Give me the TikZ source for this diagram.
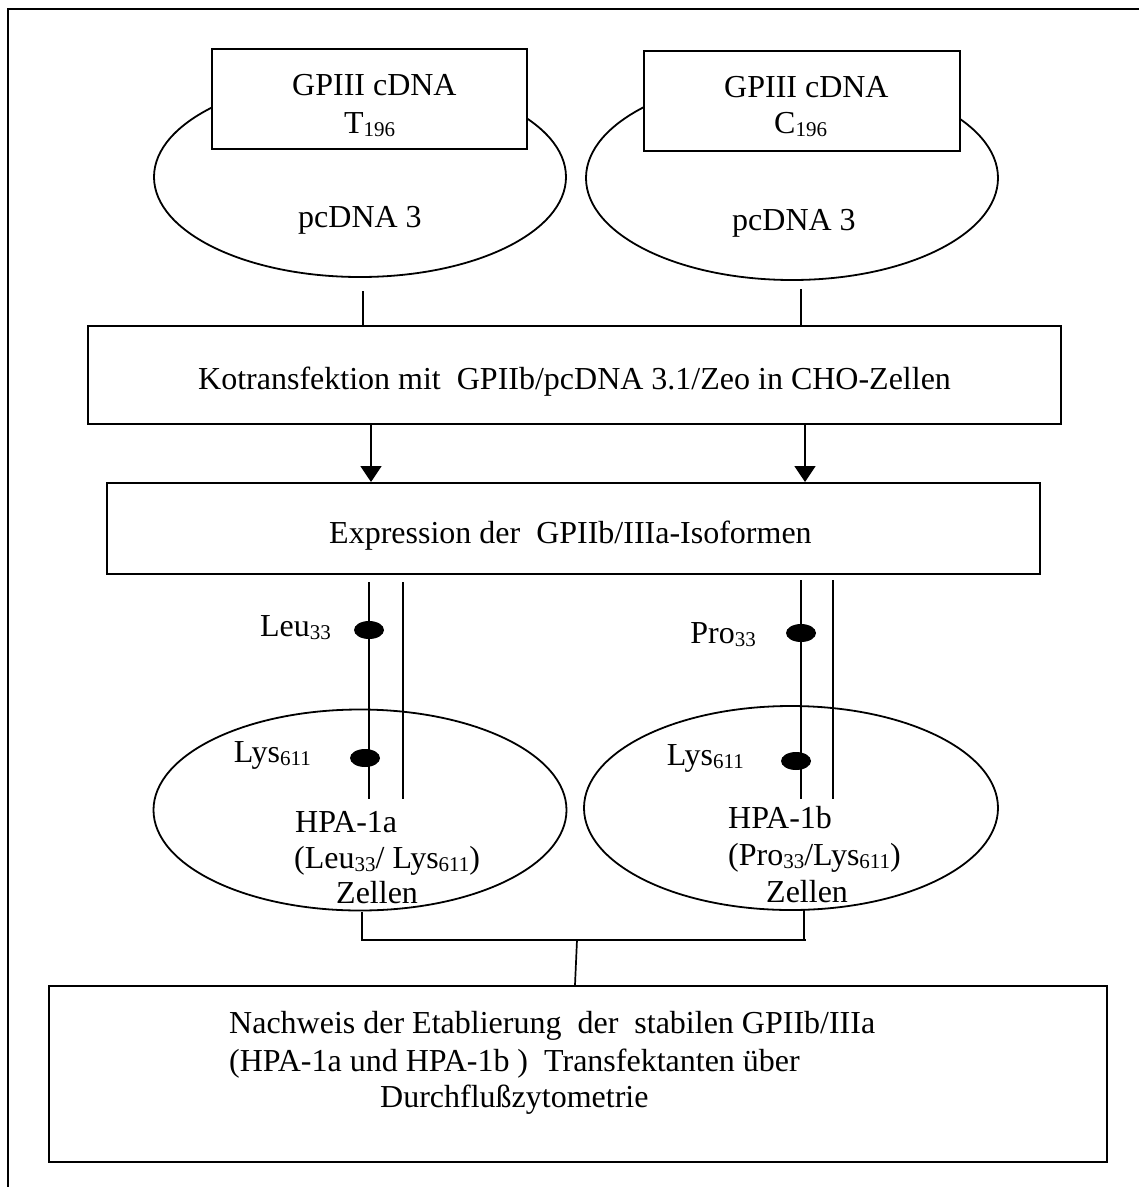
\documentclass[tikz,border=0pt]{standalone}
\usepackage{fontspec}
\setmainfont{Liberation Serif}
\usetikzlibrary{shapes.geometric,arrows.meta}
\newcommand\lowsub[1]{\raisebox{-3.5pt}{\fontsize{21}{21}\selectfont #1}}
\begin{document}
\begin{tikzpicture}[x=1pt,y=-1pt,
  box/.style={draw,line width=2pt,fill=white,rectangle,inner sep=0pt},
  ell/.style={draw,line width=1.8pt,ellipse,inner sep=0pt},
  dot/.style={fill=black,ellipse,inner sep=0pt,minimum width=30pt,minimum height=18pt},
  txt/.style={inner sep=0pt,anchor=base west,font=\fontsize{32}{37}\selectfont},
  txtr/.style={inner sep=0pt,anchor=base east,font=\fontsize{32}{37}\selectfont},
  conn/.style={line width=1.7pt},
  arr/.style={line width=1.7pt,-{Triangle[length=16pt,width=21pt]}},
  frame/.style={line width=2.2pt}
]
\useasboundingbox (0,0) rectangle (1139,1187);
\fill[white] (0,0) rectangle (1139,1187);

% outer frame
\coordinate (fr1) at (1139,9);
\coordinate (fr2) at (8,9);
\coordinate (fr3) at (8,1187);
\draw[frame] (fr1) -- (fr2) -- (fr3);

% plasmids
\node[ell,minimum width=412pt,minimum height=200pt] (e1) at (360,177) {};
\node[ell,minimum width=412pt,minimum height=204pt] (e2) at (792,178) {};
\node[box,minimum width=315pt,minimum height=100pt] (b1) at (369.5,99) {};
\node[box,minimum width=316pt,minimum height=100pt] (b2) at (802,101) {};
\node[txt] (t1a) at (292,95) {GPIII cDNA};
\node[txt] (t1b) at (344,133) {T\lowsub{196}};
\node[txt] (t1c) at (298,227) {pcDNA 3};
\node[txt] (t2a) at (724,97) {GPIII cDNA};
\node[txt] (t2b) at (774,133) {C\lowsub{196}};
\node[txt] (t2c) at (732,230) {pcDNA 3};

% Kotransfektion
\node[box,minimum width=973pt,minimum height=98pt] (kot) at (574.5,375) {};
\node[txt] (tkot) at (198,389) {Kotransfektion mit~ GPIIb/pcDNA 3.1/Zeo in CHO-Zellen};
\coordinate (c1) at (363,291);
\coordinate (c2) at (801,289);
\draw[conn] (c1) -- (c1 |- kot.north);
\draw[conn] (c2) -- (c2 |- kot.north);

% Expression
\node[box,minimum width=933pt,minimum height=91pt] (expr) at (573.5,528.5) {};
\node[txt] (texpr) at (329,543) {Expression der~ GPIIb/IIIa-Isoformen};
\coordinate (a1) at (371,424);
\coordinate (a2) at (805,424);
\draw[arr] (a1 |- kot.south) -- (a1 |- expr.north);
\draw[arr] (a2 |- kot.south) -- (a2 |- expr.north);

% cells
\node[ell,minimum width=413pt,minimum height=201pt] (e3) at (360,810) {};
\node[ell,minimum width=414pt,minimum height=204pt] (e4) at (791,808) {};

% receptor lines
\coordinate (l1a) at (369,582); \coordinate (l1b) at (369,799);
\coordinate (l2a) at (403,582); \coordinate (l2b) at (403,799);
\coordinate (l3a) at (801,580); \coordinate (l3b) at (801,799);
\coordinate (l4a) at (833,580); \coordinate (l4b) at (833,799);
\draw[conn] (l1a) -- (l1b);
\draw[conn] (l2a) -- (l2b);
\draw[conn] (l3a) -- (l3b);
\draw[conn] (l4a) -- (l4b);

\node[dot] (d1) at (369,630) {};
\node[dot] (d2) at (365,758) {};
\node[dot] (d3) at (801,633) {};
\node[dot] (d4) at (796,761) {};
\node[txtr] (ld1) at (331,636) {Leu\lowsub{33}};
\node[txtr] (ld2) at (311,762) {Lys\lowsub{611}};
\node[txtr] (ld3) at (756,643) {Pro\lowsub{33}};
\node[txtr] (ld4) at (744,765) {Lys\lowsub{611}};

\node[txt] (h1a) at (295,832) {HPA-1a};
\node[txt] (h1b) at (294,868) {(Leu\lowsub{33}/ Lys\lowsub{611})};
\node[txt] (h1c) at (336,903) {Zellen};
\node[txt] (h2a) at (728,828) {HPA-1b};
\node[txt] (h2b) at (728,865) {(Pro\lowsub{33}/Lys\lowsub{611})};
\node[txt] (h2c) at (766,902) {Zellen};

% final box
\node[box,minimum width=1058pt,minimum height=176pt] (fin) at (578,1074) {};
\node[txt] (f1) at (229,1033) {Nachweis der Etablierung~ der~ stabilen GPIIb/IIIa};
\node[txt] (f2) at (229,1071) {(HPA-1a und HPA-1b )~ Transfektanten über};
\node[txt] (f3) at (380,1107) {Durchflußzytometrie};

% bracket
\coordinate (k1) at (362,912);
\coordinate (k2) at (804,910);
\coordinate (kh1) at (362,940);
\coordinate (kh2) at (806,940);
\coordinate (km) at (577,940);
\coordinate (kf) at (575,986);
\draw[conn] (k1) -- (kh1) -- (kh2);
\draw[conn] (k2) -- (k2 |- kh2);
\draw[conn] (km) -- (kf |- fin.north);
\end{tikzpicture}
\end{document}
